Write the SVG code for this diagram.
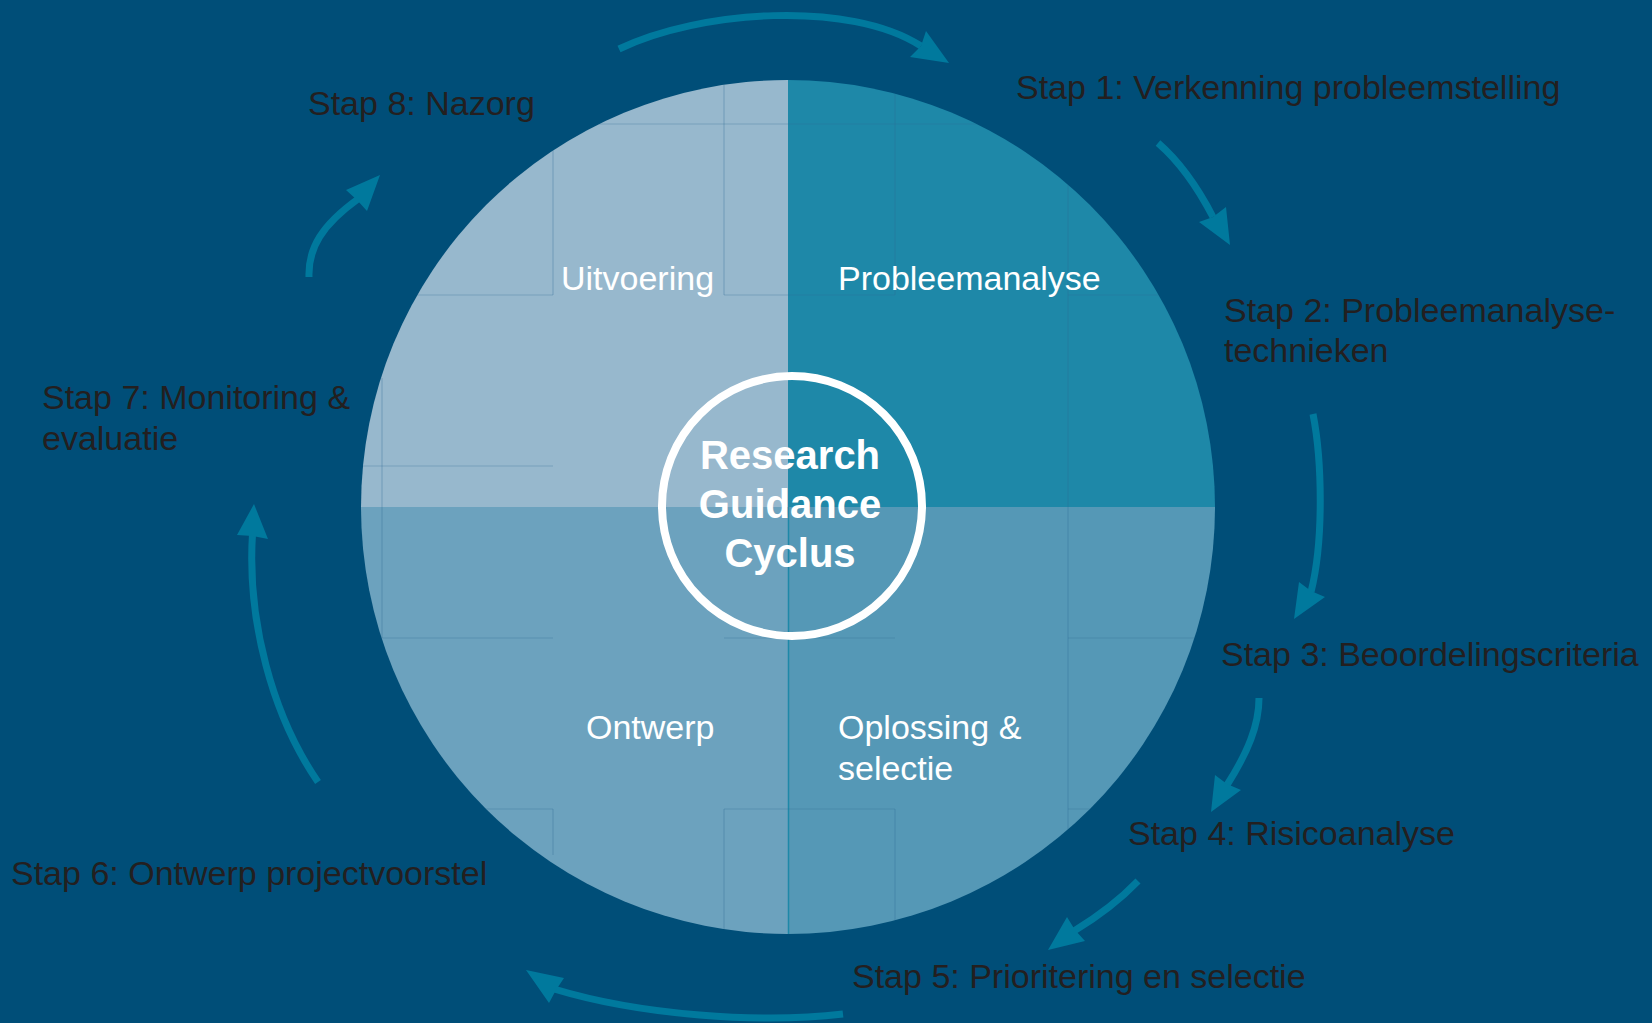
<svg xmlns="http://www.w3.org/2000/svg" width="1652" height="1023" viewBox="0 0 1652 1023">
  <style>
    .step { font-family: "Liberation Sans", Arial, sans-serif; font-size: 34px; fill: #231F20; }
    .quad { font-family: "Liberation Sans", Arial, sans-serif; font-size: 34px; fill: #FFFFFF; }
    .core { font-family: "Liberation Sans", Arial, sans-serif; font-size: 40px; font-weight: bold; fill: #FFFFFF; text-anchor: middle; }
    .arc { fill: none; stroke: #00799D; stroke-width: 7; stroke-linecap: butt; }
    .head { fill: #00799D; stroke: none; }
    .grid { stroke: #2E6E96; stroke-opacity: 0.3; stroke-width: 1.2; fill: none; }
  </style>
  <defs>
    <clipPath id="disc">
      <circle cx="788" cy="507" r="427"/>
    </clipPath>
  </defs>

  <rect id="background" x="0" y="0" width="1652" height="1023" fill="#004E78"/>

  <g id="wheel" clip-path="url(#disc)">
    <g id="quadrant-uitvoering"><rect x="361" y="80" width="427" height="427" fill="#97B8CD"/></g>
    <g id="quadrant-probleemanalyse"><rect x="788" y="80" width="427" height="427" fill="#1E88A8"/></g>
    <g id="quadrant-ontwerp"><rect x="361" y="507" width="427" height="427" fill="#6CA2BE"/></g>
    <g id="quadrant-oplossing"><rect x="788" y="507" width="427" height="427" fill="#5598B6"/></g>
    <line x1="788.5" y1="507" x2="788.5" y2="934" stroke="#1E88A8" stroke-width="1.5"/>
    <g id="tile-lines" class="grid">
      <line x1="599" y1="124" x2="977" y2="124"/>
      <line x1="724" y1="80" x2="724" y2="295"/>
      <line x1="553" y1="150" x2="553" y2="295"/>
      <line x1="410" y1="295" x2="553" y2="295"/>
      <line x1="724" y1="295" x2="895" y2="295"/>
      <line x1="895" y1="80" x2="895" y2="295"/>
      <line x1="1068" y1="295" x2="1170" y2="295"/>
      <line x1="1068" y1="180" x2="1068" y2="832"/>
      <line x1="382" y1="378" x2="382" y2="638"/>
      <line x1="360" y1="466" x2="553" y2="466"/>
      <line x1="382" y1="638" x2="553" y2="638"/>
      <line x1="724" y1="638" x2="895" y2="638"/>
      <line x1="1068" y1="638" x2="1200" y2="638"/>
      <line x1="480" y1="809" x2="553" y2="809"/>
      <line x1="724" y1="809" x2="895" y2="809"/>
      <line x1="1068" y1="809" x2="1100" y2="809"/>
      <line x1="553" y1="809" x2="553" y2="855"/>
      <line x1="724" y1="809" x2="724" y2="934"/>
      <line x1="895" y1="809" x2="895" y2="934"/>
    </g>
  </g>

  <g id="label-uitvoering"><text class="quad" x="561" y="290">Uitvoering</text></g>
  <g id="label-probleemanalyse"><text class="quad" x="838" y="290">Probleemanalyse</text></g>
  <g id="label-ontwerp"><text class="quad" x="586" y="739">Ontwerp</text></g>
  <g id="label-oplossing"><text class="quad" x="838" y="739">Oplossing &amp;</text><text class="quad" x="838" y="780">selectie</text></g>

  <g id="core">
    <circle cx="792" cy="506" r="130" fill="none" stroke="#FFFFFF" stroke-width="8"/>
    <text class="core" x="790" y="469">Research</text>
    <text class="core" x="790" y="518">Guidance</text>
    <text class="core" x="790" y="567">Cyclus</text>
  </g>

  <g id="step1"><text class="step" x="1016" y="99">Stap 1: Verkenning probleemstelling</text></g>
  <g id="step2"><text class="step" x="1224" y="322">Stap 2: Probleemanalyse-</text><text class="step" x="1224" y="362">technieken</text></g>
  <g id="step3"><text class="step" x="1221" y="666">Stap 3: Beoordelingscriteria</text></g>
  <g id="step4"><text class="step" x="1128" y="845">Stap 4: Risicoanalyse</text></g>
  <g id="step5"><text class="step" x="852" y="988">Stap 5: Prioritering en selectie</text></g>
  <g id="step6"><text class="step" x="11" y="885">Stap 6: Ontwerp projectvoorstel</text></g>
  <g id="step7"><text class="step" x="42" y="409">Stap 7: Monitoring &amp;</text><text class="step" x="42" y="450">evaluatie</text></g>
  <g id="step8"><text class="step" x="308" y="115">Stap 8: Nazorg</text></g>

  <g id="connectors">
    <path class="arc" d="M619,49 C700,10 850,0 921,46"/>
    <polygon class="head" points="949,63 926,31 921,46 910,57"/>

    <path class="arc" d="M1158,143 C1180,162 1198,188 1213,217"/>
    <polygon class="head" points="1230,245 1226,207 1213,217 1199,222"/>

    <path class="arc" d="M1313,414 C1322,460 1324,540 1311,592"/>
    <polygon class="head" points="1294,619 1325,597 1311,591 1299,582"/>

    <path class="arc" d="M1259,698 C1259,725 1248,752 1227,785"/>
    <polygon class="head" points="1211,812 1241,790 1227,784 1215,775"/>

    <path class="arc" d="M1138,881 Q1112,908 1074,931"/>
    <polygon class="head" points="1048,950 1085,941 1075,930 1067,917"/>

    <path class="arc" d="M843,1014 C760,1024 640,1015 554,989"/>
    <polygon class="head" points="526,970 549,1003 556,990 564,978"/>

    <path class="arc" d="M318,782 C272,715 247,620 252.5,534"/>
    <polygon class="head" points="254,504 237,535 252.5,536 268,539"/>

    <path class="arc" d="M309,277 C308,248 322,225 358,199"/>
    <polygon class="head" points="380,175 346,190 357,200 367,211"/>
  </g>
</svg>
